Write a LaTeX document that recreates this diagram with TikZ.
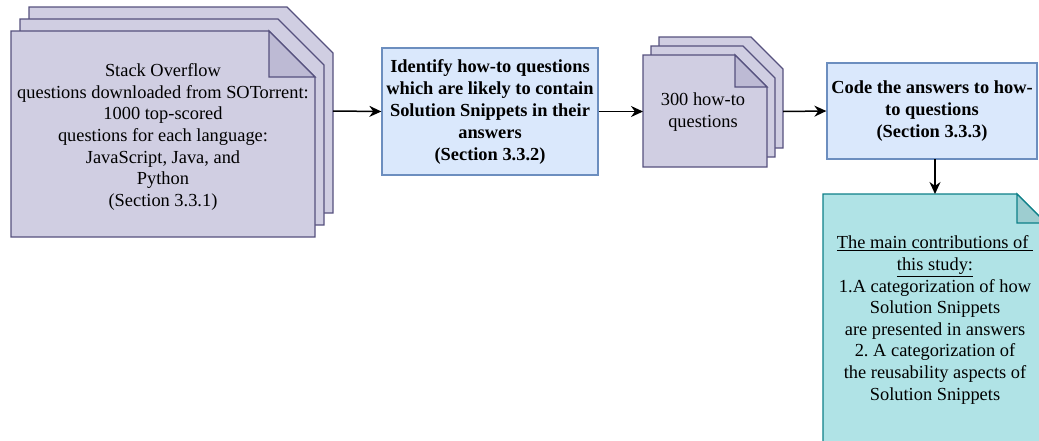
\documentclass[tikz,border=0pt]{standalone}
\usepackage{fontspec}
\setmainfont{Liberation Serif}
\usetikzlibrary{arrows.meta}
\definecolor{docfill}{HTML}{D0CEE2}
\definecolor{docline}{HTML}{56517E}
\definecolor{docfold}{HTML}{BDBAD4}
\definecolor{procfill}{HTML}{DAE8FC}
\definecolor{procline}{HTML}{6C8EBF}
\definecolor{notefill}{HTML}{B0E3E6}
\definecolor{noteline}{HTML}{0E8088}
\definecolor{notefold}{HTML}{9DCDD0}
\tikzset{
  docpage/.style={draw=docline, fill=docfill, line width=1.3pt, line join=miter},
  docfoldst/.style={draw=docline, fill=docfold, line width=1.3pt},
  notepage/.style={draw=noteline, fill=notefill, line width=1.3pt},
  notefoldst/.style={draw=noteline, fill=notefold, line width=1.3pt},
  procbox/.style={draw=procline, fill=procfill, line width=1.3pt, align=center,
    font=\fontsize{18.4}{22}\selectfont\bfseries, inner sep=0pt},
  txt/.style={align=center, font=\fontsize{18.4}{21.6}\selectfont, inner sep=0pt},
  arr/.style={-{Stealth[length=12pt,width=11pt]}, line width=1.5pt, black},
}
% page: x1,y1,x2,y2,fold
\newcommand\mydocpage[5]{%
  \draw[docpage] (#1,#2) -- ({#3-#5},#2) -- (#3,{#2+#5}) -- (#3,#4) -- (#1,#4) -- cycle;}
\newcommand\mydocfront[5]{%
  \mydocpage{#1}{#2}{#3}{#4}{#5}%
  \draw[docfoldst] ({#3-#5},#2) -- ({#3-#5},{#2+#5}) -- (#3,{#2+#5}) -- cycle;}
\begin{document}
\begin{tikzpicture}[x=1pt,y=-1pt]
\useasboundingbox (0,0) rectangle (1039,440);
\clip (0,0) rectangle (1039,440);
% document stack 1
\mydocpage{29}{7}{333}{213}{46}
\mydocpage{20}{19}{324}{225}{46}
\mydocfront{11}{31}{315}{237}{46}
\node[txt] (src) at (163,137) {Stack Overflow\\questions downloaded from SOTorrent:\\1000 top-scored\\questions for each language:\\JavaScript, Java, and\\Python\\(Section 3.3.1)};
\coordinate (srcout) at (333,111);
% process 1
\node[procbox, minimum width=216pt, minimum height=127pt] (ident) at (490,111.5) {Identify how-to questions\\which are likely to contain\\Solution Snippets in their\\answers\\(Section 3.3.2)};
% document stack 2
\mydocpage{659}{37}{783}{148}{32}
\mydocpage{651}{46}{775}{157}{32}
\mydocfront{643}{55}{767}{167}{32}
\node[txt] (howto) at (703,112) {300 how-to\\questions};
\coordinate (howtoin) at (643,111.5);
\coordinate (howtoout) at (783,111.5);
% process 2
\node[procbox, minimum width=210pt, minimum height=96pt] (code) at (932,111) {Code the answers to how-\\to questions\\(Section 3.3.3)};
% note
\draw[notepage] (823,194) -- (1017,194) -- (1046,223) -- (1046,460) -- (823,460) -- cycle;
\draw[notefoldst] (1017,194) -- (1017,223) -- (1046,223) -- cycle;
\node[txt] (contrib) at (935,320) {\underline{The main contributions of\ }\\\underline{this study:}\\1.A categorization of how\\Solution Snippets\\are presented in answers\\2.\ A categorization of\\the reusability aspects of\\Solution Snippets};
\coordinate (notetop) at (935,194);
\coordinate (codebot) at (935,159);
% connectors
\draw[arr] (srcout) -- (ident.west);
\draw[arr] (ident.east) -- (howtoin);
\draw[arr] (howtoout) -- (code.west);
\draw[arr] (codebot) -- (notetop);
\end{tikzpicture}
\end{document}
